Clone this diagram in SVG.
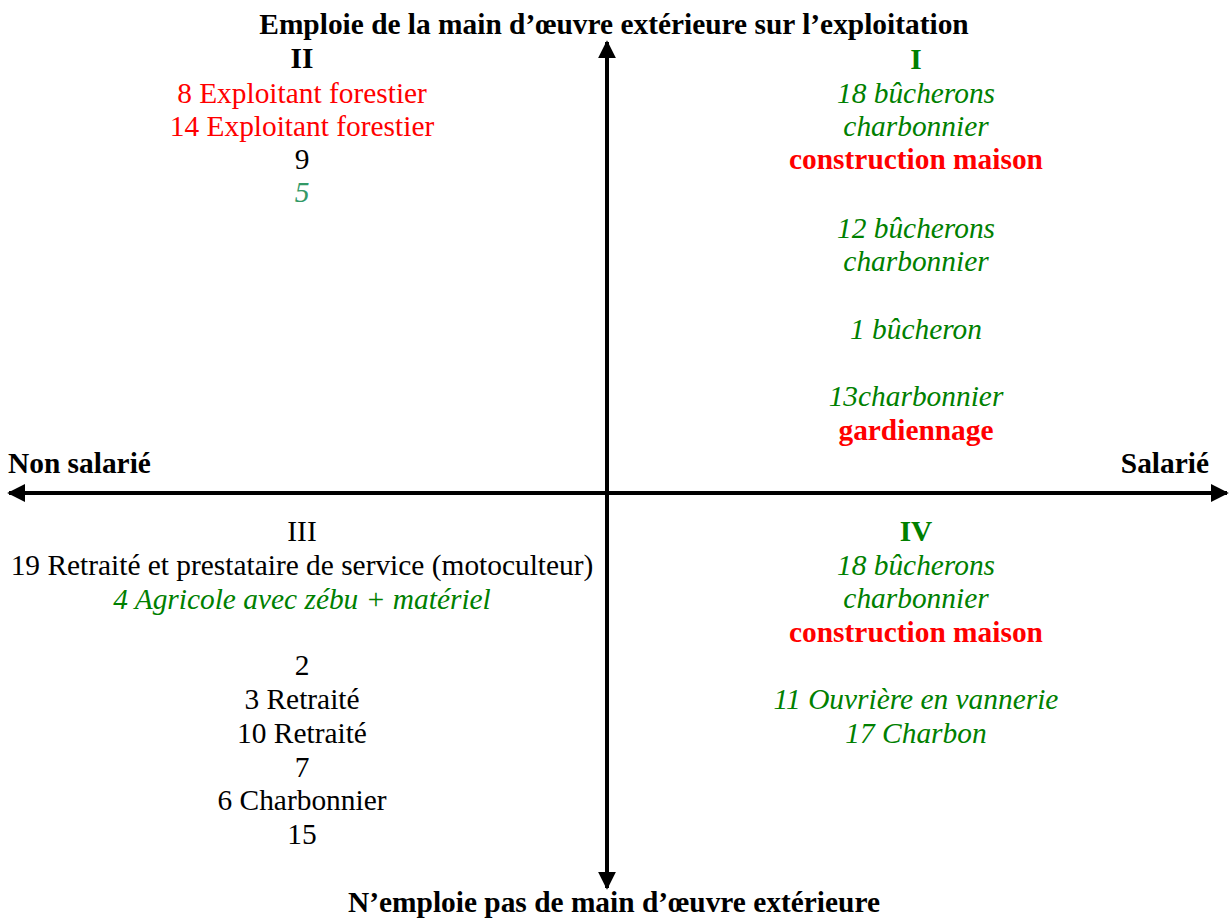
<svg xmlns="http://www.w3.org/2000/svg" width="1231" height="920" viewBox="0 0 1231 920">
<style>
text{font-family:"Liberation Serif","Times New Roman",serif;font-size:29.4px;text-anchor:middle}
.b{font-weight:bold}
.i{font-style:italic}
.g{fill:#008000}
.sg{fill:#339966}
.r{fill:#FF0000}
.k{fill:#000}
.ax{stroke:#000;stroke-width:4;fill:none}
</style>
<defs>
<marker id="ah" viewBox="0 0 10 10" refX="9" refY="5" markerWidth="4.5" markerHeight="4.5" orient="auto" markerUnits="strokeWidth">
<path d="M0,0 L10,5 L0,10 z" fill="#000"/>
</marker>
</defs>
<g id="connectors">
<line class="ax" x1="607" y1="492" x2="607" y2="42" marker-end="url(#ah)"/>
<line class="ax" x1="607" y1="492" x2="607" y2="888" marker-end="url(#ah)"/>
<line class="ax" x1="607" y1="493" x2="9" y2="493" marker-end="url(#ah)"/>
<line class="ax" x1="607" y1="493" x2="1227" y2="493" marker-end="url(#ah)"/>
</g>
<g id="axis-top"><text class="b" x="614" y="34">Emploie de la main d’œuvre extérieure sur l’exploitation</text></g>
<g id="axis-bottom"><text class="b" x="614" y="912">N’emploie pas de main d’œuvre extérieure</text></g>
<g id="axis-left"><text class="b" x="8" y="473" style="text-anchor:start">Non salarié</text></g>
<g id="axis-right"><text class="b" x="1209" y="473" style="text-anchor:end">Salarié</text></g>
<g id="quadrant-II">
<text class="b" x="302" y="68">II</text>
<text class="r" x="302" y="103">8 Exploitant forestier</text>
<text class="r" x="302" y="136">14 Exploitant forestier</text>
<text class="k" x="302" y="169">9</text>
<text class="sg i" x="302" y="202">5</text>
</g>
<g id="quadrant-I">
<text class="b g" x="916" y="69">I</text>
<text class="g i" x="916" y="103">18 bûcherons</text>
<text class="g i" x="916" y="136">charbonnier</text>
<text class="r b" x="916" y="169">construction maison</text>
<text class="g i" x="916" y="238">12 bûcherons</text>
<text class="g i" x="916" y="271">charbonnier</text>
<text class="g i" x="916" y="339">1 bûcheron</text>
<text class="g i" x="916" y="406">13charbonnier</text>
<text class="r b" x="916" y="440">gardiennage</text>
</g>
<g id="quadrant-III">
<text class="k" x="302" y="541">III</text>
<text class="k" x="302" y="575">19 Retraité et prestataire de service (motoculteur)</text>
<text class="g i" x="302" y="609">4 Agricole avec zébu + matériel</text>
<text class="k" x="302" y="675">2</text>
<text class="k" x="302" y="709">3 Retraité</text>
<text class="k" x="302" y="743">10 Retraité</text>
<text class="k" x="302" y="777">7</text>
<text class="k" x="302" y="810">6 Charbonnier</text>
<text class="k" x="302" y="844">15</text>
</g>
<g id="quadrant-IV">
<text class="b g" x="916" y="541">IV</text>
<text class="g i" x="916" y="575">18 bûcherons</text>
<text class="g i" x="916" y="608">charbonnier</text>
<text class="r b" x="916" y="642">construction maison</text>
<text class="g i" x="916" y="709">11 Ouvrière en vannerie</text>
<text class="g i" x="916" y="743">17 Charbon</text>
</g>
</svg>
